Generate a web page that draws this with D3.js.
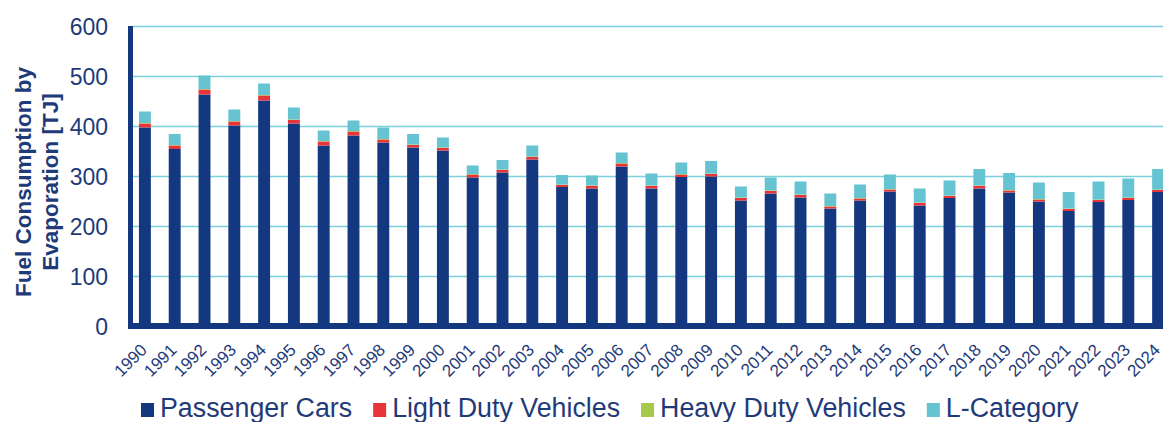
<!DOCTYPE html>
<html>
<head>
<meta charset="utf-8">
<script src="https://cdn.jsdelivr.net/npm/d3@7"></script>
<style>
  body { margin: 0; background: #fff; }
  text { font-family: "Liberation Sans", Arial, sans-serif; fill: #1f3a78; }
</style>
</head>
<body>
<svg id="chart" width="1163" height="422"></svg>
<script>
// values (TJ)
var years = d3.range(1990, 2025).map(String);
var passengerCars = [397,354,463,401,451,405,361,381,367,357,351,297,307,333,278,275,319,275,298,299,251,265,257,235,251,269,241,256,275,267,249,230,248,252,268];
var lightDuty = [8,7,10,8,10,7,8,8,6,5,5,6,5,5,4,5,6,5,5,5,5,5,5,4,4,4,5,4,5,4,4,4,4,4,4];
var heavyDuty = [1,1,1,1,1,1,1,1,1,1,1,1,1,1,1,1,1,1,1,1,1,1,1,1,1,1,1,1,1,1,1,1,1,1,1];
var lCategory = [23,22,27,23,23,24,21,21,23,21,20,17,19,22,19,20,21,24,23,25,22,26,26,25,27,29,28,30,33,34,33,33,36,38,41];
var seriesNames = ["Passenger Cars", "Light Duty Vehicles", "Heavy Duty Vehicles", "L-Category"];
var seriesColors = ["#14387f", "#e8353a", "#a6c84b", "#65c3d2"];
var yTicks = [0, 100, 200, 300, 400, 500, 600];

var svg = d3.select("#chart");

var x = d3.scaleBand()
    .domain(years)
    .range([130, 1173])
    .paddingInner(0.6)
    .paddingOuter(0.3);

var y = d3.scaleLinear()
    .domain([0, 600])
    .range([326, 26]);

var rows = years.map(function(yr, i) {
  return {year: yr, pc: passengerCars[i], ldv: lightDuty[i], hdv: heavyDuty[i], lc: lCategory[i]};
});
var keys = ["pc", "ldv", "hdv", "lc"];
var stacked = d3.stack().keys(keys)(rows);

// gridlines
svg.append("g")
    .attr("transform", "translate(133,0)")
    .call(d3.axisLeft(y).tickValues(yTicks).tickSize(-1040).tickFormat(""))
    .call(function(g) { g.select(".domain").remove(); })
    .selectAll("line")
    .attr("stroke", "#7ccfdc")
    .attr("stroke-width", 1.6);

// y tick labels
svg.append("g")
    .attr("transform", "translate(108,0)")
    .call(d3.axisLeft(y).tickValues(yTicks).tickSize(0).tickPadding(0))
    .call(function(g) { g.select(".domain").remove(); })
    .selectAll("text")
    .style("font-size", "23px")
    .attr("dy", "0.36em");

// bars
svg.append("g").selectAll("g")
    .data(stacked)
  .enter().append("g")
    .attr("fill", function(d, i) { return seriesColors[i]; })
  .selectAll("rect")
    .data(function(d) { return d; })
  .enter().append("rect")
    .attr("x", function(d) { return x(d.data.year); })
    .attr("width", x.bandwidth())
    .attr("y", function(d) { return y(d[1]); })
    .attr("height", function(d) { return y(d[0]) - y(d[1]); });

// thick axis lines
svg.append("line")
    .attr("x1", 130.5).attr("x2", 130.5)
    .attr("y1", y(600)).attr("y2", y(0) + 3)
    .attr("stroke", "#14387f").attr("stroke-width", 5);
svg.append("line")
    .attr("x1", 128).attr("x2", 1163)
    .attr("y1", y(0)).attr("y2", y(0))
    .attr("stroke", "#14387f").attr("stroke-width", 6);

// x tick labels
var xAxis = svg.append("g")
    .call(d3.axisBottom(x).tickSize(0))
    .call(function(g) { g.select(".domain").remove(); });
xAxis.selectAll(".tick").attr("transform", null);
xAxis.selectAll("text")
    .attr("y", null).attr("dy", null)
    .style("font-size", "17px")
    .attr("text-anchor", "end")
    .attr("transform", function(d) { return "translate(" + (x(d) + x.bandwidth() / 2 + 3) + ",351) rotate(-45)"; });

// y axis title
var title = svg.append("text")
    .attr("transform", "translate(0,182) rotate(-90)")
    .attr("text-anchor", "middle")
    .style("font-size", "22.5px")
    .style("font-weight", "bold");
title.append("tspan").attr("x", 0).attr("y", 31).text("Fuel Consumption by");
title.append("tspan").attr("x", 0).attr("y", 58).text("Evaporation [TJ]");

// legend
var legend = svg.append("g").attr("transform", "translate(141,0)");
var lx = 0;
seriesNames.forEach(function(name, i) {
  var item = legend.append("g").attr("transform", "translate(" + lx + ",0)");
  item.append("rect")
      .attr("x", 0).attr("y", 403)
      .attr("width", 13).attr("height", 14)
      .attr("fill", seriesColors[i]);
  var t = item.append("text")
      .attr("x", 19).attr("y", 417)
      .style("font-size", "26.8px")
      .text(name);
  lx += 19 + t.node().getComputedTextLength() + 21;
});
</script>
</body>
</html>
